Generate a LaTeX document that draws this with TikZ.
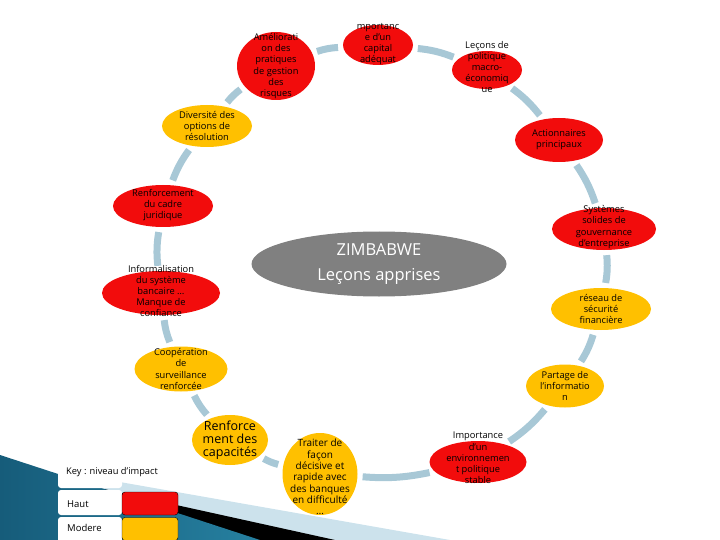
\documentclass[tikz,border=0pt]{standalone}
\usepackage{fontspec}
\setmainfont{Open Sans}
\usetikzlibrary{shapes.geometric}
\definecolor{bubred}{RGB}{242,12,12}
\definecolor{bubgold}{RGB}{255,192,0}
\definecolor{ringblue}{RGB}{168,200,214}
\definecolor{hubgrey}{RGB}{128,128,128}
\definecolor{tealdark}{RGB}{22,92,122}
\definecolor{tealmid}{RGB}{38,128,160}
\definecolor{paleband}{RGB}{204,226,236}
\tikzset{
  bubble/.style={ellipse, inner sep=0pt, draw=none},
  redbub/.style={bubble, fill=bubred},
  goldbub/.style={bubble, fill=bubgold},
  bubtext/.style={align=center, inner sep=0pt, font=\fontsize{9.3}{11.2}\selectfont},
  ring/.style={ringblue, line width=7pt, shorten <=5pt, shorten >=5pt},
  keycell/.style={fill=white, rounded corners=3pt},
  swatch/.style={draw=black, rounded corners=3pt, minimum width=56pt, minimum height=23pt, inner sep=0pt}
}
\begin{document}
\begin{tikzpicture}[x=1pt, y=-1pt]
  \useasboundingbox (0,0) rectangle (720,540);

  % Corner swoosh of the slide
  \fill[paleband] (80,475) -- (450,540) -- (0,540) -- cycle;
  \fill[black] (90,486) -- (335,540) -- (0,540) -- cycle;
  \shade[left color=tealdark, right color=tealmid] (0,455) -- (260,540) -- (0,540) -- cycle;

  % Centre
  \node[bubble, fill=hubgrey, minimum width=255pt, minimum height=65pt] (hub) at (379,264) {};
  \node[align=center, text=white, inner sep=0pt, font=\fontsize{16.5}{25}\selectfont] (hub-t) at (hub) {ZIMBABWE\\Leçons apprises};

  % Lessons round the ring
  \node[redbub, minimum width=78pt, minimum height=68pt] (amel) at (276,66) {};
  \node[bubtext] (amel-t) at (amel) {Améliorati\\on des\\pratiques\\de gestion\\des\\risques};

  \node[redbub, minimum width=70pt, minimum height=40pt] (mport) at (378,45) {};
  \node[bubtext] (mport-t) at (378,44) {mportanc\\e d'un\\capital\\adéquat};

  \node[redbub, minimum width=70pt, minimum height=38pt] (lecons) at (487,70) {};
  \node[bubtext] (lecons-t) at (487,67) {Leçons de\\politique\\macro-\\économiq\\ue};

  \node[redbub, minimum width=88pt, minimum height=44pt] (action) at (559,140) {};
  \node[bubtext] (action-t) at (action) {Actionnaires\\principaux};

  \node[redbub, minimum width=104pt, minimum height=42pt] (syst) at (604,229) {};
  \node[bubtext] (syst-t) at (604,227) {Systèmes\\solides de\\gouvernance\\d'entreprise};

  \node[goldbub, minimum width=100pt, minimum height=42pt] (reseau) at (601,309) {};
  \node[bubtext] (reseau-t) at (reseau) {réseau de\\sécurité\\financière};

  \node[goldbub, minimum width=78pt, minimum height=43pt] (partage) at (565,386) {};
  \node[bubtext] (partage-t) at (partage) {Partage de\\l'informatio\\n};

  \node[redbub, minimum width=97pt, minimum height=42pt] (import) at (478,462) {};
  \node[bubtext] (import-t) at (478,458) {Importance\\d'un\\environnemen\\t politique\\stable};

  \node[goldbub, minimum width=75pt, minimum height=82pt] (traiter) at (320,474) {};
  \node[bubtext, font=\fontsize{10}{11.3}\selectfont] (traiter-t) at (320,477) {Traiter de\\façon\\décisive et\\rapide avec\\des banques\\en difficulté\\…};

  \node[goldbub, minimum width=76pt, minimum height=50pt] (renfcap) at (230,440) {};
  \node[bubtext, font=\fontsize{12.5}{13}\selectfont] (renfcap-t) at (renfcap) {Renforce\\ment des\\capacités};

  \node[goldbub, minimum width=93pt, minimum height=45pt] (coop) at (181,369) {};
  \node[bubtext] (coop-t) at (coop) {Coopération\\de\\surveillance\\renforcée};

  \node[redbub, minimum width=118pt, minimum height=44pt] (inform) at (161,293) {};
  \node[bubtext] (inform-t) at (161,291) {Informalisation\\du système\\bancaire …\\Manque de\\confiance};

  \node[redbub, minimum width=100pt, minimum height=42pt] (renfcad) at (163,206) {};
  \node[bubtext] (renfcad-t) at (163,205) {Renforcement\\du cadre\\juridique};

  \node[goldbub, minimum width=90pt, minimum height=42pt] (divers) at (207,126) {};
  \node[bubtext] (divers-t) at (divers) {Diversité des\\options de\\résolution};

  % Ring links
  \draw[ring] (amel) to[bend left=8] (mport);
  \draw[ring] (mport) to[bend left=8] (lecons);
  \draw[ring] (lecons) to[bend left=8] (action);
  \draw[ring] (action) to[bend left=8] (syst);
  \draw[ring] (syst) to[bend left=8] (reseau);
  \draw[ring] (reseau) to[bend left=8] (partage);
  \draw[ring] (partage) to[bend left=8] (import);
  \draw[ring] (import) to[bend left=8] (traiter);
  \draw[ring] (traiter) to[bend left=8] (renfcap);
  \draw[ring] (renfcap) to[bend left=8] (coop);
  \draw[ring] (coop) to[bend left=8] (inform);
  \draw[ring] (inform) to[bend left=8] (renfcad);
  \draw[ring] (renfcad) to[bend left=8] (divers);
  \draw[ring] (divers) to[bend left=8] (amel);

  % Key
  \fill[keycell] (58,461) rectangle (122,488);
  \fill[keycell] (58,490) rectangle (122,515);
  \fill[keycell] (58,517) rectangle (122,546);
  \node[anchor=west, inner sep=0pt, font=\fontsize{9.3}{10}\selectfont] (key-title) at (66,472) {Key : niveau d'impact};
  \node[anchor=west, inner sep=0pt, font=\fontsize{9.5}{10}\selectfont] (key-haut) at (67,504) {Haut};
  \node[anchor=west, inner sep=0pt, font=\fontsize{9.5}{10}\selectfont] (key-mod) at (67,528) {Modere};
  \node[swatch, fill=bubred] (swatch-haut) at (150,503.5) {};
  \node[swatch, fill=bubgold] (swatch-mod) at (150,529) {};
\end{tikzpicture}
\end{document}
